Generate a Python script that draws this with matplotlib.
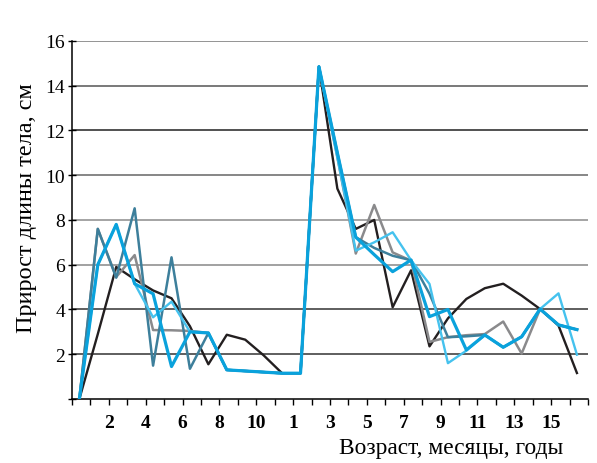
import numpy as np
import matplotlib
matplotlib.use("Agg")
import matplotlib.pyplot as plt

plt.rcParams['font.family'] = ['Liberation Serif', 'DejaVu Serif']

# categories: birth + 11 months, then 1..16 years
n_points = 28
tick_pos = [2, 4, 6, 8, 10, 12, 14, 16, 18, 20, 22, 24, 26]
tick_labels = ["2", "4", "6", "8", "10", "1", "3", "5", "7", "9", "11", "13", "15"]

black = [0, 2.9, 5.9, 5.35, 4.85, 4.5, 3.25, 1.55, 2.87, 2.65, 1.95, 1.15, 1.15, 14.85,
         9.4, 7.6, 8.0, 4.1, 5.75, 2.35, 3.6, 4.47, 4.95, 5.15, 4.62, 4.02, 3.28, 1.16]
gray = [0, 7.6, 5.45, 6.43, 3.08, 3.07, 3.04, 2.95, 1.3, 1.25, 1.2, 1.15, 1.15, 14.85,
        10.8, 6.5, 8.67, 6.55, 6.18, 2.55, 2.76, 2.85, 2.9, 3.46, 2.03, 4.02, 3.31, 3.1]
teal = [0, 7.6, 5.42, 8.52, 1.49, 6.33, 1.35, 2.95, 1.3, 1.25, 1.2, 1.15, 1.15, 14.85,
        11.0, 7.23, 6.75, 6.4, 6.2, 4.7, 2.76, 2.8, 2.86, 2.31, 2.78, 4.02, 3.31, 3.1]
light = [0, 6.0, 7.8, 5.15, 3.65, 4.35, 3.0, 2.95, 1.3, 1.25, 1.2, 1.15, 1.15, 14.85,
         10.8, 6.63, 7.0, 7.45, 6.2, 5.14, 1.6, 2.16, 2.86, 2.31, 2.78, 4.02, 4.72, 1.98]
blue = [0, 6.0, 7.8, 5.15, 4.7, 1.45, 3.0, 2.95, 1.3, 1.25, 1.2, 1.15, 1.15, 14.85,
        11.0, 7.23, 6.45, 5.69, 6.21, 3.68, 4.0, 2.19, 2.86, 2.31, 2.78, 4.02, 3.31, 3.1]

x = np.arange(n_points) + 0.4

fig = plt.figure(figsize=(5.97, 4.64), dpi=100)
ax = fig.add_axes([0.1206, 0.138, 0.8643, 0.7716])

# horizontal grid, colours vary a bit like in the print
grid_vals = [2, 4, 6, 8, 10, 12, 14, 16]
grid_cols = ['#333333', '#333333', '#888888', '#8c8c8c', '#666666', '#222222', '#555555', '#777777']
for gv, gc in zip(grid_vals, grid_cols):
    ax.axhline(gv, color=gc, lw=1.1, zorder=1)

ax.plot(x, black, color='#231f20', lw=1.7, zorder=3)
ax.plot(x, gray, color='#8a8a8c', lw=1.8, zorder=3)
ax.plot(x, teal, color='#3d7f9b', lw=1.8, zorder=3)
ax.plot(x, light, color='#45c2ee', lw=1.7, zorder=3)
ax.plot(x, blue, color='#0aa2dc', lw=2.3, zorder=4)

ax.set_xlim(0, 28)
ax.set_ylim(0, 16)

lab_map = dict(zip(tick_pos, tick_labels))
all_ticks = list(range(0, 29))
ax.set_xticks(all_ticks, [lab_map.get(t, "") for t in all_ticks])
ax.tick_params(axis='x', direction='out', length=4.5, width=1, pad=6, labelsize=14)
for t in ax.get_xticklabels():
    t.set_fontweight('bold')

ax.set_yticks(grid_vals + [0], [str(v) for v in grid_vals] + [""])
ax.tick_params(axis='y', direction='inout', length=6, width=1, pad=2, labelsize=14)

for s in ['top', 'right']:
    ax.spines[s].set_visible(False)
ax.spines['left'].set_linewidth(1.1)
ax.spines['bottom'].set_linewidth(1.1)

fig.text(27 / 597, 1 - 208 / 464, "Прирост длины тела, см", rotation=90,
         ha='center', va='center', fontsize=17.5)
fig.text(451 / 597, 1 - 449 / 464, "Возраст, месяцы, годы",
         ha='center', va='center', fontsize=16.8)

fig.savefig("out.png", dpi=100)
